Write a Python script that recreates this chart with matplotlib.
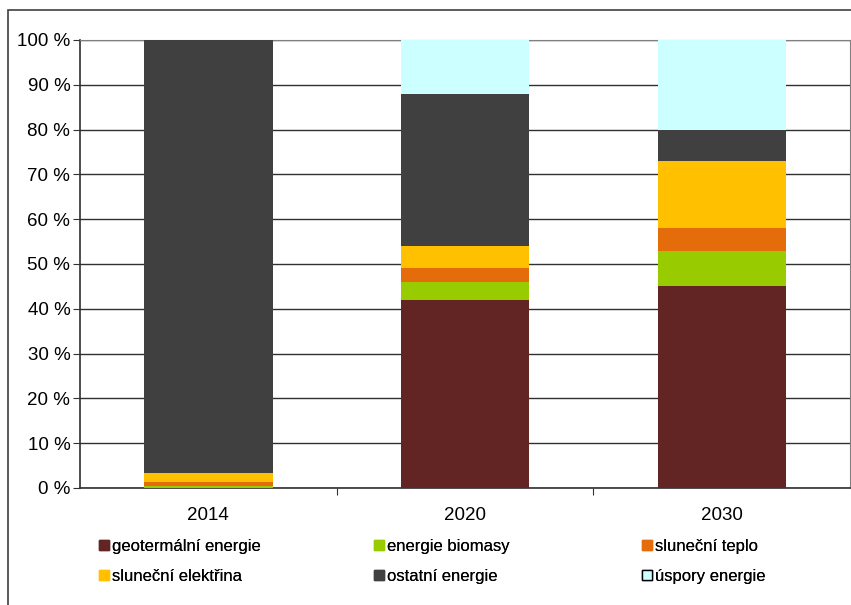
import matplotlib.pyplot as plt
from matplotlib.patches import Patch, Rectangle
import numpy as np

plt.rcParams['font.family'] = ['Liberation Sans', 'DejaVu Sans']

years = ["2014", "2020", "2030"]
series = ["geotermální energie", "energie biomasy", "sluneční teplo",
          "sluneční elektřina", "ostatní energie", "úspory energie"]
geotermalni = [0, 42, 45]
biomasa = [0.4, 4, 8]
teplo = [0.9, 3, 5]
elektrina = [2.1, 5, 15]
ostatni = [96.6, 34, 7]
uspory = [0, 12, 20]
colors = ["#632523", "#99CC00", "#E46C0A", "#FFC000", "#404040", "#CCFFFF"]

values = [geotermalni, biomasa, teplo, elektrina, ostatni, uspory]

fig = plt.figure(figsize=(8.51, 6.05), dpi=100)
ax = fig.add_axes([80 / 851, 1 - 488 / 605, 770 / 851, 448 / 605])

x = np.arange(len(years))
bottom = np.zeros(len(years))
for vals, col in zip(values, colors):
    ax.bar(x, vals, bottom=bottom, width=0.5, color=col, zorder=3)
    bottom += np.array(vals)

ax.set_xlim(-0.5, 2.5)
ax.set_ylim(0, 100)
ax.set_yticks(range(0, 101, 10))
ax.set_yticklabels([f"{v} %" for v in range(0, 101, 10)], fontsize=13.5)
ax.yaxis.grid(True, color="#303030", linewidth=1, zorder=0)

# year labels in the middle, ticks at category borders
ax.set_xticks([0.5, 1.5])
ax.set_xticklabels([])
ax.set_xticks(x, minor=True)
ax.set_xticklabels(years, minor=True, fontsize=13.5)
ax.tick_params(axis="x", which="minor", length=0, pad=14)
ax.tick_params(axis="x", which="major", length=5, color="#303030")
ax.tick_params(axis="y", length=5, color="#303030", pad=2)

ax.spines["left"].set_color("#303030")
ax.spines["bottom"].set_color("#303030")
ax.spines["top"].set_color("#808080")
ax.spines["right"].set_color("#808080")
ax.spines["left"].set_linewidth(1.2)
ax.spines["bottom"].set_linewidth(1.2)

handles = []
for s, col in zip(series, colors):
    ec = "black" if s == "úspory energie" else col
    handles.append(Patch(facecolor=col, edgecolor=ec, linewidth=1))

# one small legend per column, rows read left to right
col_x = [84, 359, 627]
for c in range(3):
    idx = [c, c + 3]
    leg = fig.legend([handles[i] for i in idx], [series[i] for i in idx],
                     frameon=False, fontsize=12, loc="upper left",
                     bbox_to_anchor=(col_x[c] / 851, 1 - 524 / 605),
                     handlelength=0.6, handleheight=0.6, handletextpad=0.2,
                     labelspacing=0.9)
    fig.add_artist(leg)

# outer chart frame
fig.patches.append(Rectangle((8 / 851, -0.1), 1.0, 1 - 10 / 605 + 0.1,
                             transform=fig.transFigure, fill=False,
                             edgecolor="#404040", linewidth=1.2))

fig.savefig("out.png", dpi=100)
